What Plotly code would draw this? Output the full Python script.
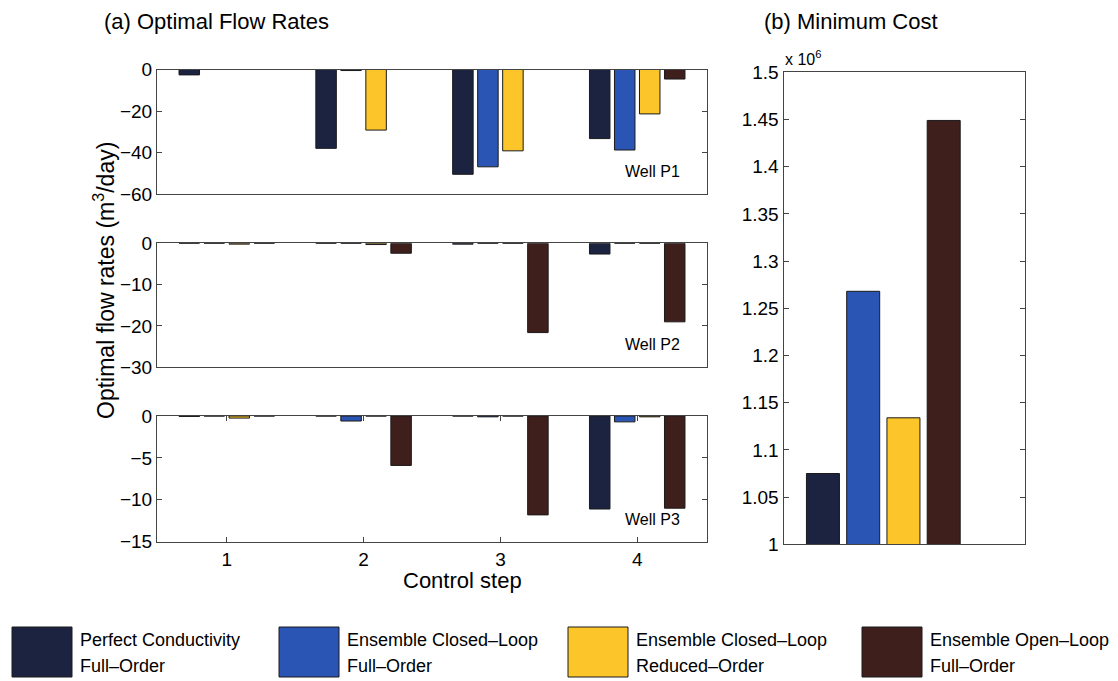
import plotly.graph_objects as go

# ---------------- data ----------------
steps = [1, 2, 3, 4]
series_names = ["Perfect Conductivity Full-Order", "Ensemble Closed-Loop Full-Order",
                "Ensemble Closed-Loop Reduced-Order", "Ensemble Open-Loop Full-Order"]
legend_line1 = ["Perfect Conductivity", "Ensemble Closed–Loop", "Ensemble Closed–Loop", "Ensemble Open–Loop"]
legend_line2 = ["Full–Order", "Full–Order", "Reduced–Order", "Full–Order"]
colors = ["#1b2340", "#2a55b5", "#fcc62a", "#3f1f1c"]

# Well P1 flow rates (m3/day)
p1_perfect = [-2.6, -38.0, -50.5, -33.3]
p1_cl_full = [0.0, -0.5, -46.9, -38.8]
p1_cl_red = [0.0, -29.2, -39.2, -21.4]
p1_ol_full = [0.0, 0.0, 0.0, -4.6]
# Well P2
p2_perfect = [0.0, 0.0, -0.2, -2.6]
p2_cl_full = [0.0, 0.0, 0.0, 0.0]
p2_cl_red = [-0.2, -0.3, 0.0, 0.0]
p2_ol_full = [0.0, -2.4, -21.6, -19.0]
# Well P3
p3_perfect = [-0.05, 0.0, 0.0, -11.1]
p3_cl_full = [0.0, -0.6, -0.1, -0.7]
p3_cl_red = [-0.25, 0.0, 0.0, -0.1]
p3_ol_full = [0.0, -5.9, -11.8, -11.0]

# Minimum cost (x 10^6)
cost_positions = [1, 2, 3, 4]
cost_e6 = [1.075, 1.268, 1.134, 1.449]

well_labels = ["Well P1", "Well P2", "Well P3"]
p1_ticks = [0, -20, -40, -60]
p2_ticks = [0, -10, -20, -30]
p3_ticks = [0, -5, -10, -15]
cost_ticks = [1, 1.05, 1.1, 1.15, 1.2, 1.25, 1.3, 1.35, 1.4, 1.45, 1.5]

# ---------------- figure ----------------
W, H = 1118, 681
FONT = "Liberation Sans, Arial, Helvetica, sans-serif"
fig = go.Figure()

panels = [
    ([p1_perfect, p1_cl_full, p1_cl_red, p1_ol_full], "x", "y"),
    ([p2_perfect, p2_cl_full, p2_cl_red, p2_ol_full], "x2", "y2"),
    ([p3_perfect, p3_cl_full, p3_cl_red, p3_ol_full], "x3", "y3"),
]
for vals, xa, ya in panels:
    for name, v, c in zip(series_names, vals, colors):
        fig.add_trace(go.Bar(x=steps, y=v, name=name, marker=dict(color=c, line=dict(color="#1a1a1a", width=1)),
                             xaxis=xa, yaxis=ya, showlegend=False))

fig.add_trace(go.Bar(x=cost_positions, y=cost_e6, base=0, width=0.82,
                     marker=dict(color=colors, line=dict(color="#1a1a1a", width=1)),
                     xaxis="x4", yaxis="y4", showlegend=False))


def px_x(a, b):
    return [a / W, b / W]


def px_y(top, bottom):
    return [1 - bottom / H, 1 - top / H]


axis_common = dict(showgrid=False, zeroline=False, showline=True, linecolor="#444", linewidth=1,
                   tickfont=dict(family=FONT, size=19, color="black"), ticks="inside", ticklen=5,
                   tickcolor="#444", automargin=False)

left_dom = px_x(157, 707)
lay = dict(
    width=W, height=H, margin=dict(l=0, r=0, t=0, b=0, pad=0, autoexpand=False),
    paper_bgcolor="white", plot_bgcolor="white",
    barmode="group", bargap=0.269, bargroupgap=0.18,
    font=dict(family=FONT, color="black"),
    showlegend=False,
)
# x axes left
for name, anchor, show in [("xaxis", "y", False), ("xaxis2", "y2", False), ("xaxis3", "y3", True)]:
    d = dict(axis_common)
    d.update(domain=left_dom, anchor=anchor, range=[0.49, 4.51], tickvals=steps,
             showticklabels=show, mirror="ticks" if show else True)
    if not show:
        d["ticks"] = ""
    lay[name] = d
# y axes left
for name, anchor, dom, ticks in [("yaxis", "x", px_y(69.5, 194), p1_ticks),
                                  ("yaxis2", "x2", px_y(243.3, 367.3), p2_ticks),
                                  ("yaxis3", "x3", px_y(416, 541.7), p3_ticks)]:
    d = dict(axis_common)
    d.update(domain=dom, anchor=anchor, range=[min(ticks), max(ticks)], tickvals=ticks, mirror="ticks")
    lay[name] = d
# right panel
d = dict(axis_common)
d.update(domain=px_x(783.5, 1025), anchor="y4", range=[0.02, 6.02], showticklabels=False, ticks="", mirror=True)
lay["xaxis4"] = d
d = dict(axis_common)
d.update(domain=px_y(72.3, 544.3), anchor="x4", range=[1, 1.5], tickvals=cost_ticks, mirror="ticks")
lay["yaxis4"] = d
fig.update_layout(**lay)

ann = []
ann.append(dict(text="(a) Optimal Flow Rates", x=102 / W, y=1 - 21 / H, xref="paper", yref="paper",
                xanchor="left", yanchor="middle", showarrow=False, font=dict(size=22, family=FONT)))
ann.append(dict(text="(b) Minimum Cost", x=762 / W, y=1 - 21 / H, xref="paper", yref="paper",
                xanchor="left", yanchor="middle", showarrow=False, font=dict(size=22, family=FONT)))
ann.append(dict(text="x 10<sup>6</sup>", x=783 / W, y=1 - 58 / H, xref="paper", yref="paper",
                xanchor="left", yanchor="middle", showarrow=False, font=dict(size=16, family=FONT)))
ann.append(dict(text="Optimal flow rates (m<sup>3</sup>/day)", x=104 / W, y=1 - 281 / H, xref="paper", yref="paper",
                xanchor="center", yanchor="middle", textangle=-90, showarrow=False, font=dict(size=23, family=FONT)))
ann.append(dict(text="Control step", x=462 / W, y=1 - 580 / H, xref="paper", yref="paper",
                xanchor="center", yanchor="middle", showarrow=False, font=dict(size=22, family=FONT)))
for lbl, xr, yr in zip(well_labels, ["x domain", "x2 domain", "x3 domain"], ["y domain", "y2 domain", "y3 domain"]):
    ann.append(dict(text=lbl, x=0.955, y=0.18, xref=xr, yref=yr, xanchor="right", yanchor="middle",
                    showarrow=False, font=dict(size=16, family=FONT)))

shapes = []
legend_left = [12, 279, 568, 862]
for lx, c, l1, l2 in zip(legend_left, colors, legend_line1, legend_line2):
    shapes.append(dict(type="rect", xref="paper", yref="paper", x0=lx / W, x1=(lx + 60) / W,
                       y0=1 - 677 / H, y1=1 - 627 / H, fillcolor=c, line=dict(color="#1a1a1a", width=1)))
    for txt, ty in [(l1, 640), (l2, 666)]:
        ann.append(dict(text=txt, x=(lx + 66) / W, y=1 - ty / H, xref="paper", yref="paper",
                        xanchor="left", yanchor="middle", align="left", showarrow=False,
                        font=dict(size=18, family=FONT)))
fig.update_layout(annotations=ann, shapes=shapes)

fig.write_html("out.html")
